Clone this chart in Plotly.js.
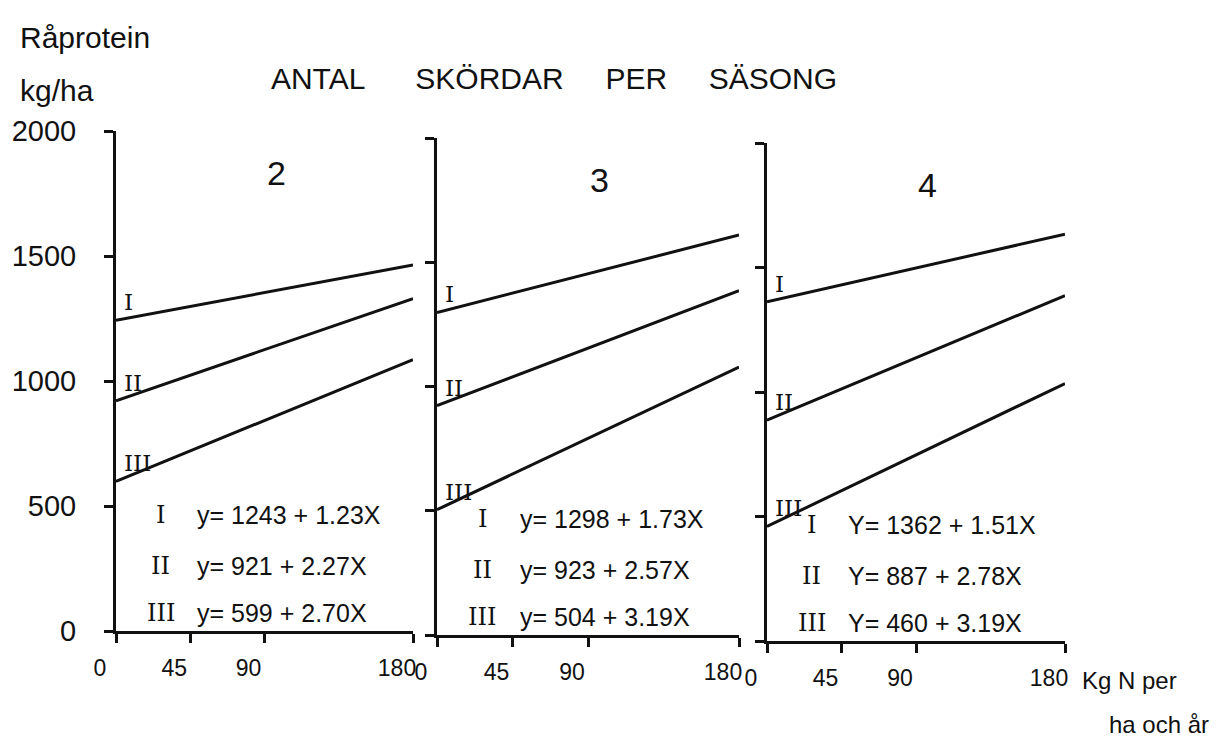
<!DOCTYPE html>
<html>
<head>
<meta charset="utf-8">
<script src="https://cdn.plot.ly/plotly-3.0.1.min.js"></script>
<style>
  html, body { margin: 0; padding: 0; background: #ffffff; }
  #chart { width: 1224px; height: 754px; }
</style>
</head>
<body>
<div id="chart"></div>
<script>
// Harvests per season, one panel each
const harvestCounts = ['2', '3', '4'];
// Regression lines inside each panel
const lineIds = ['I', 'II', 'III'];
// y = a + bX, crude protein (kg/ha) against nitrogen (kg N per ha and year)
const intercepts = [
  [1243, 921, 599],
  [1298, 923, 504],
  [1362, 887, 460]
];
const slopes = [
  [1.23, 2.27, 2.70],
  [1.73, 2.57, 3.19],
  [1.51, 2.78, 3.19]
];
// symbol used for the response in each panel's equations
const eqSymbol = ['y', 'y', 'Y'];
// nitrogen range covered by the lines
const nitrogenRange = [0, 180];
const xTickVals = [0, 45, 90, 180];
const xTickText = ['0', '45', '90', '180'];
const yTickVals = [0, 500, 1000, 1500, 2000];
const yTickText = ['0', '500', '1000', '1500', '2000'];

const W = 1224, H = 754;
const INK = '#111111';
const SANS = 'Liberation Sans, Arial, sans-serif';
const NARROW = 'Liberation Sans Narrow, Liberation Sans, Arial, sans-serif';
const SERIF = 'DejaVu Serif, Liberation Serif, serif';

// panel frames in pixels: x from left edge, y for value 0 and value 2000
const frames = [
  { x0: 116, x1: 413, yBottom: 631, yTop: 131 },
  { x0: 437, x1: 739, yBottom: 635, yTop: 138 },
  { x0: 767, x1: 1065, yBottom: 641, yTop: 143 }
];

const traces = [];
const annotations = [];
const gap = '\u00a0'.repeat(5);
const layout = {
  width: W, height: H,
  margin: { l: 0, r: 0, t: 0, b: 0 },
  paper_bgcolor: '#ffffff',
  plot_bgcolor: '#ffffff',
  showlegend: false,
  font: { family: SANS, color: INK },
  title: {
    text: 'ANTAL' + gap + '\u00a0SKÖRDAR' + gap + 'PER' + gap + 'SÄSONG',
    x: 554 / W, xanchor: 'center', xref: 'paper',
    y: 1 - 78 / H, yanchor: 'middle', yref: 'paper',
    font: { family: SANS, size: 30, color: INK }
  },
  annotations: annotations
};

frames.forEach((f, p) => {
  const sfx = p === 0 ? '' : String(p + 1);
  const xName = 'x' + sfx, yName = 'y' + sfx;

  layout['xaxis' + sfx] = {
    domain: [f.x0 / W, f.x1 / W],
    anchor: yName,
    range: nitrogenRange,
    tickmode: 'array', tickvals: xTickVals, ticktext: xTickText,
    showline: true, linewidth: 3, linecolor: INK,
    ticks: 'outside', ticklen: 9, tickwidth: 3, tickcolor: INK,
    ticklabelstandoff: 5,
    ticklabelshift: -16,
    showgrid: false, zeroline: false, fixedrange: true,
    tickfont: { family: NARROW, size: 23, color: INK }
  };
  layout['yaxis' + sfx] = {
    domain: [1 - f.yBottom / H, 1 - f.yTop / H],
    anchor: xName,
    range: [0, 2000],
    tickmode: 'array', tickvals: yTickVals, ticktext: yTickText,
    showticklabels: p === 0,
    showline: true, linewidth: 3, linecolor: INK,
    ticks: 'outside', ticklen: 9, tickwidth: 3, tickcolor: INK,
    ticklabelstandoff: 22,
    showgrid: false, zeroline: false, fixedrange: true,
    tickfont: { family: SANS, size: 29, color: INK }
  };

  // panel heading: number of harvests
  annotations.push({
    xref: xName, yref: yName, x: 97, y: 1830,
    text: harvestCounts[p], showarrow: false,
    xanchor: 'center', yanchor: 'middle',
    font: { family: SANS, size: 34, color: INK }
  });

  const eqRows = [465, 262, 72];
  lineIds.forEach((id, i) => {
    const a = intercepts[p][i], b = slopes[p][i];
    traces.push({
      type: 'scatter', mode: 'lines',
      xaxis: xName, yaxis: yName,
      x: nitrogenRange,
      y: nitrogenRange.map(n => a + b * n),
      line: { color: INK, width: 3 },
      cliponaxis: false,
      hoverinfo: 'skip'
    });
    // line label just above where the line leaves the axis
    annotations.push({
      xref: xName, yref: yName, x: 0, y: a,
      text: id, showarrow: false,
      xanchor: 'left', yanchor: 'bottom', xshift: 6, yshift: 3,
      font: { family: SERIF, size: 23, color: INK }
    });
    // equation row in the lower part of the panel
    annotations.push({
      xref: xName, yref: yName, x: 27, y: eqRows[i],
      text: id, showarrow: false,
      xanchor: 'center', yanchor: 'middle',
      font: { family: SERIF, size: 24, color: INK }
    });
    annotations.push({
      xref: xName, yref: yName, x: 48, y: eqRows[i],
      text: eqSymbol[p] + '= ' + a + ' + ' + b.toFixed(2) + 'X',
      showarrow: false,
      xanchor: 'left', yanchor: 'middle',
      font: { family: SANS, size: 25, color: INK }
    });
  });
});

// axis captions
annotations.push({
  xref: 'paper', yref: 'paper', x: 18 / W, y: 1 - 37 / H,
  text: 'Råprotein', showarrow: false,
  xanchor: 'left', yanchor: 'middle',
  font: { family: SANS, size: 30, color: INK }
});
annotations.push({
  xref: 'paper', yref: 'paper', x: 18 / W, y: 1 - 90 / H,
  text: 'kg/ha', showarrow: false,
  xanchor: 'left', yanchor: 'middle',
  font: { family: SANS, size: 30, color: INK }
});
annotations.push({
  xref: 'paper', yref: 'paper', x: 1080 / W, y: 1 - 680 / H,
  text: 'Kg N per', showarrow: false,
  xanchor: 'left', yanchor: 'middle',
  font: { family: NARROW, size: 24, color: INK }
});
annotations.push({
  xref: 'paper', yref: 'paper', x: 1107 / W, y: 1 - 724 / H,
  text: 'ha och år', showarrow: false,
  xanchor: 'left', yanchor: 'middle',
  font: { family: NARROW, size: 24, color: INK }
});

Plotly.newPlot('chart', traces, layout, { displayModeBar: false, staticPlot: true });
</script>
</body>
</html>
